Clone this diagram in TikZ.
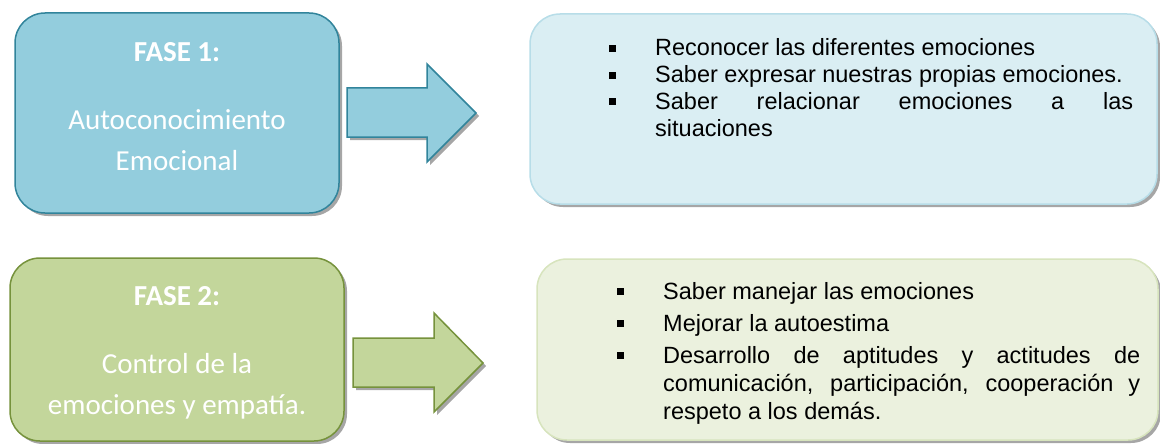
\documentclass[tikz,border=0pt]{standalone}
\usepackage{fontspec}
\setmainfont{Liberation Sans}
\newfontfamily\fasefont{Carlito}
\usetikzlibrary{shadows}

\definecolor{azulFase}{HTML}{93CDDD}
\definecolor{azulBorde}{HTML}{31849B}
\definecolor{azulLista}{HTML}{DAEEF3}
\definecolor{azulListaBorde}{HTML}{B7DDE8}
\definecolor{verdeFase}{HTML}{C3D69B}
\definecolor{verdeBorde}{HTML}{76923C}
\definecolor{verdeLista}{HTML}{EBF1DE}
\definecolor{verdeListaBorde}{HTML}{D7E4BD}

\newcommand{\vineta}[1]{\par\hangindent=49pt\hangafter=1\noindent
  \makebox[49pt][l]{\hspace{3pt}\raisebox{4pt}{\rule{7pt}{7pt}}}#1}

\begin{document}
\begin{tikzpicture}[x=1pt,y=-1pt]
\tikzstyle{every node}+=[inner sep=0pt]
\tikzstyle{caja}=[rectangle, rounded corners=30pt, line width=1.5pt,
  drop shadow={shadow xshift=3pt, shadow yshift=-3pt, fill=black!35, opacity=1}]
\tikzstyle{flecha}=[line width=1.5pt, line join=miter,
  drop shadow={shadow xshift=3pt, shadow yshift=-3pt, fill=black!35, opacity=1}]
\tikzstyle{titulo}=[anchor=base, text=white, font=\fasefont\bfseries\fontsize{29}{34}\selectfont]
\tikzstyle{lema}=[anchor=base, text=white, font=\fasefont\fontsize{29}{34}\selectfont]
\tikzstyle{lista}=[anchor=base west, font=\fontsize{23.5}{26.7}\selectfont]
\useasboundingbox (0,0) rectangle (1160,444);

% fase 1
\node [caja, draw=azulBorde, fill=azulFase, minimum width=324pt, minimum height=200pt] (fase1) at (177,113) {};
\node [titulo] (tit1) at (177,62) {FASE 1:};
\node [lema] (lema1a) at (177,129) {Autoconocimiento};
\node [lema] (lema1b) at (177,170) {Emocional};
\draw [flecha, draw=azulBorde, fill=azulFase] (347,88) -- (427,88) -- (427,64) -- (476,113)
  -- (427,162) -- (427,137) -- (347,137) -- cycle;
\node [caja, draw=azulListaBorde, fill=azulLista, minimum width=627pt, minimum height=190pt] (caja1) at (843.5,109) {};
\node [lista] (lista1) at (606,56) {\parbox[t]{527pt}{\tolerance=9999\hbadness=10000
  \vineta{Reconocer las diferentes emociones}
  \vineta{Saber expresar nuestras propias emociones.}
  \vineta{Saber relacionar emociones a las\linebreak situaciones}}};

% fase 2
\node [caja, draw=verdeBorde, fill=verdeFase, minimum width=334pt, minimum height=183pt] (fase2) at (177,349.5) {};
\node [titulo] (tit2) at (177,305) {FASE 2:};
\node [lema] (lema2a) at (177,373) {Control de la};
\node [lema] (lema2b) at (177,414) {emociones y empatía.};
\draw [flecha, draw=verdeBorde, fill=verdeFase] (353,338) -- (434,338) -- (434,313) -- (483,363)
  -- (434,412) -- (434,387) -- (353,387) -- cycle;
\node [caja, draw=verdeListaBorde, fill=verdeLista, minimum width=621pt, minimum height=181pt] (caja2) at (847.5,349.5) {};
\node [lista] (lista2) at (614,299) {\parbox[t]{526pt}{\tolerance=9999\hbadness=10000
  \baselineskip=28pt\parskip=4pt
  \vineta{Saber manejar las emociones}
  \vineta{Mejorar la autoestima}
  \vineta{Desarrollo de aptitudes y actitudes de\linebreak comunicación, participación, cooperación y\linebreak respeto a los demás.}}};
\end{tikzpicture}
\end{document}
